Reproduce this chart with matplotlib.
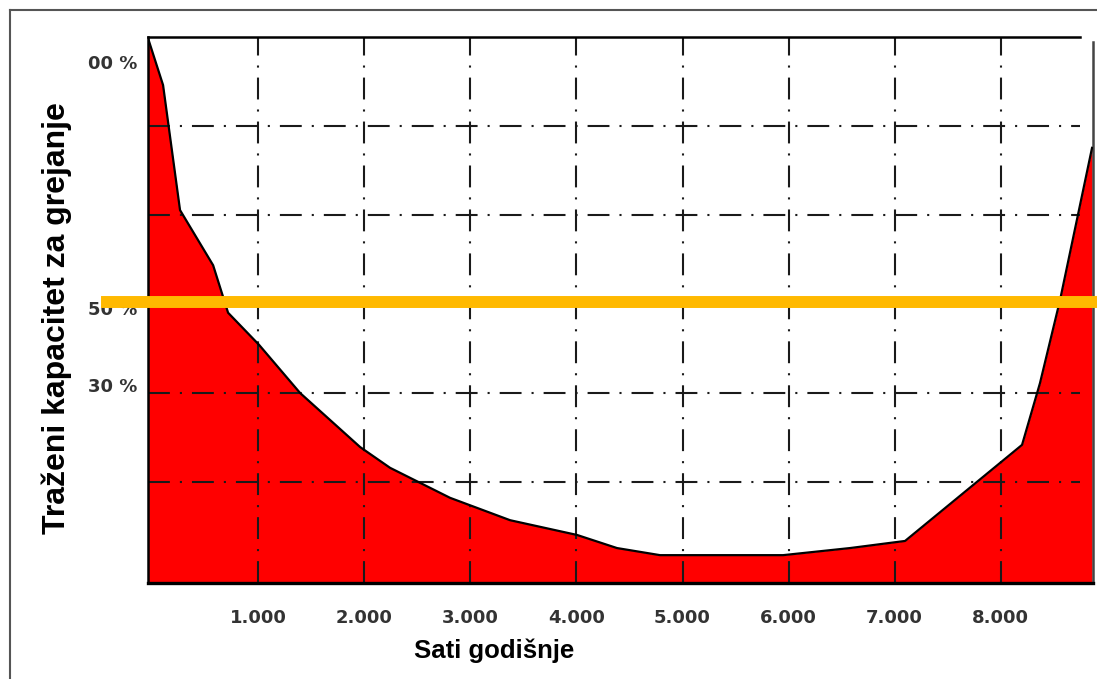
import matplotlib
matplotlib.use('Agg')
import matplotlib.pyplot as plt
from matplotlib.lines import Line2D

# sati godisnje / trazeni kapacitet (u % visine dijagrama)
hours = [-40, 102, 262, 574, 715, 1008, 1394, 1960, 2242, 2808, 3374, 4005,
         4382, 4788, 5948, 6579, 7098, 8201, 8370, 8559, 8861]
capacity = [99.8, 91.2, 68.3, 58.2, 49.5, 43.6, 34.8, 24.9, 21.1, 15.6, 11.5, 8.8,
            6.4, 5.1, 5.1, 6.4, 7.7, 25.3, 36.6, 51.8, 79.7]

x_grid = [1000, 2000, 3000, 4000, 5000, 6000, 7000, 8000]
x_labels = ['1.000', '2.000', '3.000', '4.000', '5.000', '6.000', '7.000', '8.000']
y_grid = [18.5, 34.8, 51.1, 67.4, 83.7]
y_ticks = [95.4, 50.4, 36.3]
y_labels = ['00 %', '50 %', '30 %']
limit_level = 51.5

x_min, x_max, grid_end = -40, 8870, 8747

fig = plt.figure(figsize=(10.97, 6.79), dpi=100)
ax = fig.add_axes([148 / 1097, 1 - 583 / 679, (1093 - 148) / 1097, (583 - 37) / 679])
ax.set_xlim(x_min, x_max)
ax.set_ylim(0, 100)

ax.fill_between(hours, capacity, 0, color='#ff0000', zorder=1, linewidth=0)
ax.plot(hours, capacity, color='black', linewidth=1.6, zorder=3)

dash = (10.5, 4.8, 1, 4.8)
for gx in x_grid:
    ax.axvline(gx, color='#1a1a1a', linewidth=1.5, dashes=dash, zorder=2)
for gy in y_grid:
    ax.plot([x_min, grid_end], [gy, gy], color='#1a1a1a', linewidth=1.5, dashes=dash, zorder=2)

# narandzasta linija
ax.axhline(limit_level, xmin=(107 - 148) / 945, xmax=(1097 - 148) / 945,
           color='#ffb900', linewidth=8.6, clip_on=False, zorder=5)

for side in ['left', 'bottom', 'top']:
    ax.spines[side].set_color('black')
    ax.spines[side].set_linewidth(1.8)
ax.spines['bottom'].set_linewidth(2.4)
ax.spines['top'].set_bounds(x_min, grid_end)
ax.spines['right'].set_color('#444444')
ax.spines['right'].set_linewidth(1.8)
ax.spines['right'].set_bounds(0, 99)

ax.set_xticks(x_grid)
ax.set_xticklabels(x_labels)
ax.set_yticks(y_ticks)
ax.set_yticklabels(y_labels)
ax.tick_params(axis='x', length=0, pad=19, labelsize=13, labelcolor='#333333')
ax.tick_params(axis='y', length=0, pad=8, labelsize=13, labelcolor='#333333')
for lbl in ax.get_xticklabels() + ax.get_yticklabels():
    lbl.set_fontweight('bold')
    lbl.set_family('DejaVu Sans')

fig.text(494 / 1097, 1 - 651 / 679, 'Sati godišnje', ha='center', va='center',
         fontsize=18.5, fontweight='bold', family='Liberation Sans')
fig.text(57 / 1097, 1 - 318 / 679, 'Traženi kapacitet za grejanje', ha='center',
         va='center', rotation=90, fontsize=23, fontweight='bold', family='Liberation Sans')

# okvir slike
fig.add_artist(Line2D([10 / 1097, 10 / 1097], [0, 1 - 10 / 679], color='#555555',
                      linewidth=1.5, transform=fig.transFigure))
fig.add_artist(Line2D([10 / 1097, 1], [1 - 10 / 679, 1 - 10 / 679], color='#555555',
                      linewidth=1.5, transform=fig.transFigure))

plt.savefig('out.png', dpi=100)
